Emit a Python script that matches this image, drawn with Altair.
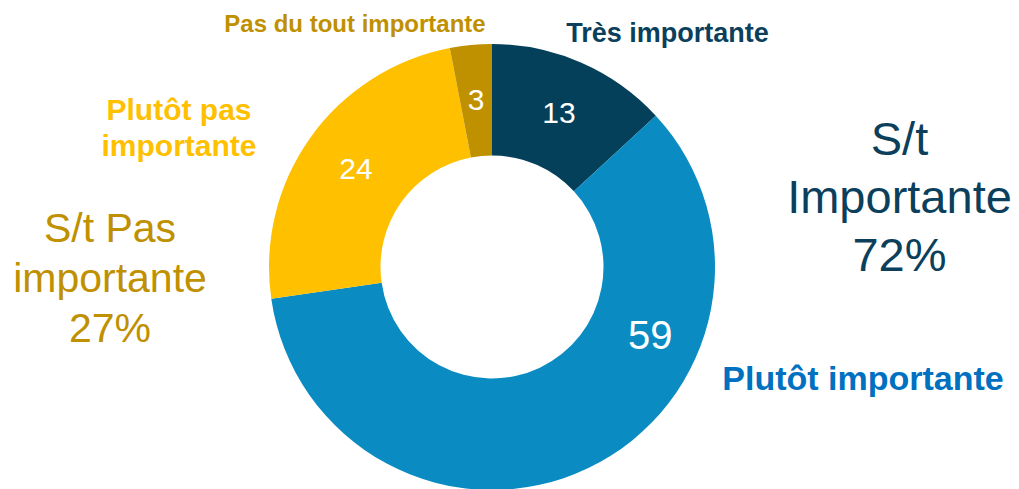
import altair as alt
import pandas as pd

# ---- data ----
categories = ["Très importante", "Plutôt importante", "Plutôt pas importante", "Pas du tout importante"]
values = [13, 59, 24, 3]
slice_colors = ["#05405A", "#0A8BC2", "#FFC000", "#BF9000"]

summary_texts = ["S/t\nImportante\n72%", "S/t Pas\nimportante\n27%"]
category_texts = ["Très importante", "Plutôt importante", "Plutôt pas\nimportante", "Pas du tout importante"]

df = pd.DataFrame({
    "categorie": categories,
    "valeur": values,
    "ordre": list(range(len(categories))),
    "label": [str(v) for v in values],
})

FONT = "Liberation Sans"
CX, CY = 484, 259
R_OUT, R_IN = 223, 111.5

color_scale = alt.Scale(domain=categories, range=slice_colors)

base = alt.Chart(df).encode(
    theta=alt.Theta("valeur:Q", stack=True),
    order=alt.Order("ordre:Q", sort="ascending"),
)

arcs = base.mark_arc(radius=R_OUT, radius2=R_IN, strokeWidth=0).encode(
    x=alt.value(CX), y=alt.value(CY),
    color=alt.Color("categorie:N", scale=color_scale, legend=None),
)

# value labels (slice midpoints), the big slice's label shifted like the original
small_labels = base.mark_text(
    radius=167, font=FONT, fontSize=30, color="white", align="center", baseline="middle"
).encode(
    x=alt.value(CX), y=alt.value(CY),
    text=alt.Text("label:N"),
    opacity=alt.condition(alt.datum.categorie == "Plutôt importante", alt.value(0), alt.value(1)),
)
big_label = base.mark_text(
    radius=173, thetaOffset=-0.709, font=FONT, fontSize=40, color="white", align="center", baseline="middle"
).encode(
    x=alt.value(CX), y=alt.value(CY),
    text=alt.Text("label:N"),
    opacity=alt.condition(alt.datum.categorie == "Plutôt importante", alt.value(1), alt.value(0)),
)

# annotation layout (positions / styles kept apart from data)
annot_layout = [
    (category_texts[0], 659.5, 33.7, 27, "bold", "#0B3F5C", 32),
    (category_texts[1], 855, 382, 34, "bold", "#0070C0", 40),
    (category_texts[2], 171, 112, 30, "bold", "#FFC000", 36),
    (category_texts[3], 347, 23.7, 24, "bold", "#BF9000", 28),
    (summary_texts[0], 891.5, 147, 47, "normal", "#0B3F5C", 58),
    (summary_texts[1], 102, 233.7, 41, "normal", "#BF9000", 50),
]

annots = []
for txt, x, y, fs, fw, col, lh in annot_layout:
    annots.append(
        alt.Chart(pd.DataFrame({"t": [txt]})).mark_text(
            font=FONT, fontSize=fs, fontWeight=fw, color=col,
            align="center", baseline="alphabetic", lineBreak="\n", lineHeight=lh,
        ).encode(x=alt.value(x), y=alt.value(y), text=alt.Text("t:N"))
    )

chart = alt.layer(arcs, small_labels, big_label, *annots).properties(
    width=1003, height=481, padding=0,
    autosize=alt.AutoSizeParams(type="none"),
    view=alt.ViewBackground(stroke=None, strokeWidth=0),
).configure_view(strokeWidth=0, stroke=None).configure(background="white")

chart.save("out.html", embed_options={"renderer": "svg", "actions": False})
